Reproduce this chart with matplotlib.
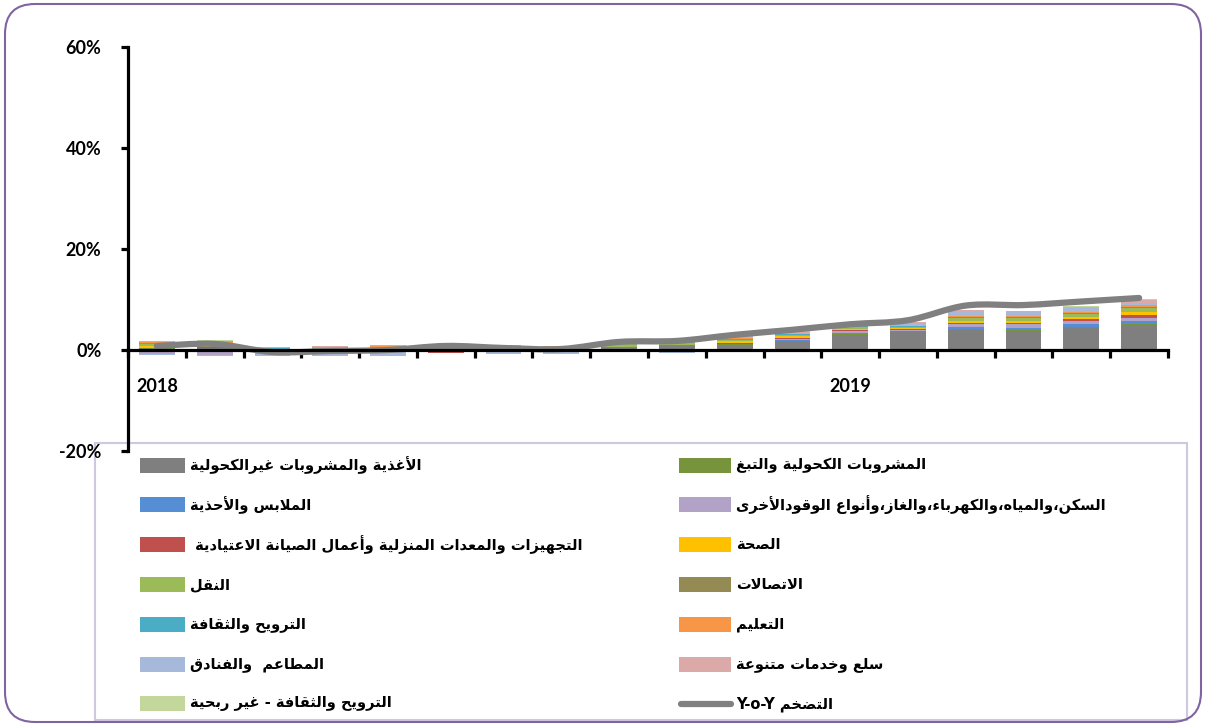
import re
import numpy as np
import matplotlib
matplotlib.use('Agg')
import matplotlib.pyplot as plt
from matplotlib.path import Path
from matplotlib.patches import PathPatch, Rectangle, FancyBboxPatch
from matplotlib.lines import Line2D
from matplotlib.transforms import IdentityTransform

plt.rcParams['font.family'] = ['Lato', 'DejaVu Sans']

# ---- data (percentage points, contribution to y-o-y inflation) ----
months = ['2018-01', '2018-02', '2018-03', '2018-04', '2018-05', '2018-06',
          '2018-07', '2018-08', '2018-09', '2018-10', '2018-11', '2018-12',
          '2019-01', '2019-02', '2019-03', '2019-04', '2019-05', '2019-06']

food        = [0.2, 0.3, -0.1, 0.0, 0.1, 0.3, 0.2, 0.1, 0.4, 0.8, 1.0, 1.7, 3.0, 3.5, 3.9, 3.8, 4.4, 4.8]
alcohol     = [0.1, 0.1, 0.05, 0.1, 0.1, 0.05, 0.0, 0.05, 0.1, 0.1, 0.1, 0.1, 0.15, 0.2, 0.25, 0.25, 0.25, 0.25]
clothing    = [-0.2, -0.2, -0.3, -0.3, -0.2, -0.1, -0.1, -0.1, -0.1, 0.0, 0.05, 0.1, 0.2, 0.1, 0.35, 0.4, 0.45, 0.6]
housing     = [-0.6, -0.7, -0.4, -0.3, -0.2, -0.2, -0.2, -0.1, -0.1, -0.3, 0.1, 0.3, 0.4, 0.2, 0.6, 0.6, 0.55, 0.65]
furnishing  = [0.1, 0.1, 0.0, 0.0, 0.05, -0.2, -0.1, 0.0, 0.0, -0.05, 0.05, 0.1, 0.15, 0.1, 0.3, 0.3, 0.4, 0.65]
health      = [0.4, 0.3, 0.1, 0.1, 0.1, 0.1, 0.1, 0.1, 0.1, 0.1, 0.4, 0.4, 0.35, 0.3, 0.4, 0.4, 0.45, 0.65]
transport   = [0.4, 0.5, 0.1, 0.2, 0.2, 0.4, 0.2, 0.2, 0.5, 0.65, 0.2, 0.3, 0.3, 0.15, 0.6, 0.6, 0.6, 0.65]
communic    = [0.05, 0.05, 0.0, 0.05, 0.05, 0.05, 0.05, 0.05, 0.05, 0.05, 0.05, 0.05, 0.05, 0.05, 0.05, 0.1, 0.15, 0.2]
recreation  = [0.05, 0.05, 0.05, 0.0, 0.0, 0.05, 0.05, 0.0, 0.1, 0.1, 0.25, 0.1, 0.1, 0.1, 0.1, 0.1, 0.15, 0.15]
education   = [0.3, 0.3, 0.1, 0.2, 0.2, 0.2, 0.2, 0.2, 0.2, 0.2, 0.1, 0.1, 0.1, 0.1, 0.15, 0.15, 0.2, 0.3]
restaurants = [-0.2, -0.2, -0.3, -0.6, -0.7, -0.1, -0.3, -0.5, -0.2, -0.2, 0.4, 0.2, 0.3, 0.5, 1.0, 0.8, 0.8, 0.5]
misc        = [0.1, 0.15, 0.1, 0.1, 0.1, 0.1, 0.1, 0.05, 0.3, 0.2, -0.3, 0.2, 0.15, 0.15, 0.2, 0.15, 0.2, 0.6]
rec_np      = [0.1, 0.1, 0.0, 0.05, 0.05, 0.0, 0.05, 0.05, 0.05, 0.05, 0.05, 0.05, 0.05, 0.05, 0.1, 0.1, 0.1, 0.1]

inflation   = [0.8, 1.2, -0.4, -0.2, 0.0, 0.8, 0.4, 0.2, 1.6, 1.8, 3.0, 4.0, 5.1, 5.9, 8.8, 8.9, 9.6, 10.3]

labels = ['الأغذية والمشروبات غيرالكحولية',
          'المشروبات الكحولية والتبغ',
          'الملابس والأحذية',
          'السكن،والمياه،والكهرباء،والغاز،وأنواع الوقودالأخرى',
          'التجهيزات والمعدات المنزلية وأعمال الصيانة الاعتيادية ',
          'الصحة',
          'النقل',
          'الاتصالات',
          'الترويح والثقافة',
          'التعليم',
          'المطاعم  والفنادق',
          'سلع وخدمات متنوعة',
          'الترويح والثقافة - غير ربحية']
line_label = 'التضخم Y-o-Y'

series = [food, alcohol, clothing, housing, furnishing, health, transport,
          communic, recreation, education, restaurants, misc, rec_np]
colors = ['#7F7F7F', '#77933C', '#558ED5', '#B3A2C7', '#C0504D', '#FFC000', '#9BBB59',
          '#948A54', '#4BACC6', '#F79646', '#A6B9DA', '#DCA9A9', '#C3D69B']
line_color = '#808080'

# ---- minimal arabic shaping (matplotlib has no RTL / joining support) ----
AR_FORMS = {
    'ء': (0xFE80, 0), 'آ': (0xFE81, 1), 'أ': (0xFE83, 1), 'ؤ': (0xFE85, 1),
    'إ': (0xFE87, 1), 'ئ': (0xFE89, 2), 'ا': (0xFE8D, 1), 'ب': (0xFE8F, 2),
    'ة': (0xFE93, 1), 'ت': (0xFE95, 2), 'ث': (0xFE99, 2), 'ج': (0xFE9D, 2),
    'ح': (0xFEA1, 2), 'خ': (0xFEA5, 2), 'د': (0xFEA9, 1), 'ذ': (0xFEAB, 1),
    'ر': (0xFEAD, 1), 'ز': (0xFEAF, 1), 'س': (0xFEB1, 2), 'ش': (0xFEB5, 2),
    'ص': (0xFEB9, 2), 'ض': (0xFEBD, 2), 'ط': (0xFEC1, 2), 'ظ': (0xFEC5, 2),
    'ع': (0xFEC9, 2), 'غ': (0xFECD, 2), 'ف': (0xFED1, 2), 'ق': (0xFED5, 2),
    'ك': (0xFED9, 2), 'ل': (0xFEDD, 2), 'م': (0xFEE1, 2), 'ن': (0xFEE5, 2),
    'ه': (0xFEE9, 2), 'و': (0xFEED, 1), 'ى': (0xFEEF, 1), 'ي': (0xFEF1, 2),
}
LAM_ALEF = {'آ': 0xFEF5, 'أ': 0xFEF7, 'إ': 0xFEF9, 'ا': 0xFEFB}


def ar(text):
    units = []
    i = 0
    while i < len(text):
        c = text[i]
        if c == 'ل' and i + 1 < len(text) and text[i + 1] in LAM_ALEF:
            units.append((LAM_ALEF[text[i + 1]], 1))
            i += 2
            continue
        units.append(AR_FORMS.get(c, c))
        i += 1
    out = []
    for k, u in enumerate(units):
        if isinstance(u, str):
            out.append(u)
            continue
        base, kind = u
        prev = units[k - 1] if k > 0 else None
        nxt = units[k + 1] if k + 1 < len(units) else None
        jp = kind > 0 and isinstance(prev, tuple) and prev[1] == 2
        jn = kind == 2 and isinstance(nxt, tuple) and nxt[1] > 0
        form = 3 if (jp and jn) else 1 if jp else 2 if jn else 0
        out.append(chr(base + form))
    vis = ''.join(out)[::-1]
    return re.sub(r'[A-Za-z0-9%\-]+', lambda m: m.group()[::-1], vis)


# ---- figure ----
W, H = 1206, 726
fig = plt.figure(figsize=(W / 100, H / 100), dpi=100)
ax = fig.add_axes([128 / W, 1 - 451 / H, (1168 - 128) / W, (451 - 47) / H])
ax.patch.set_visible(False)

x = np.arange(len(months))
pos_bottom = np.zeros(len(x))
neg_bottom = np.zeros(len(x))
for vals, color in zip(series, colors):
    vals = np.array(vals, dtype=float)
    bottom = np.where(vals >= 0, pos_bottom, neg_bottom)
    ax.bar(x, vals, 0.62, bottom=bottom, color=color, linewidth=0, zorder=2)
    pos_bottom += np.clip(vals, 0, None)
    neg_bottom += np.clip(vals, None, 0)

# smoothed line (bezier through the monthly points, like excel's smooth line)
pts = np.column_stack([x, inflation]).astype(float)
ext = np.vstack([pts[0], pts, pts[-1]])
verts = [pts[0]]
codes = [Path.MOVETO]
for i in range(len(pts) - 1):
    p0, p1, p2, p3 = ext[i], ext[i + 1], ext[i + 2], ext[i + 3]
    verts += [p1 + (p2 - p0) / 6, p2 - (p3 - p1) / 6, p2]
    codes += [Path.CURVE4] * 3
ax.add_patch(PathPatch(Path(verts, codes), fill=False, edgecolor=line_color,
                       linewidth=4.5, capstyle='round', zorder=3))

ax.set_xlim(-0.5, len(x) - 0.5)
ax.set_ylim(-20, 60)
ax.set_yticks([-20, 0, 20, 40, 60])
ax.set_yticklabels(['%d%%' % v for v in [-20, 0, 20, 40, 60]])
ax.set_xticks(np.arange(len(x) + 1) - 0.5)
ax.set_xticklabels([])
ax.set_xticks(x, minor=True)
ax.set_xticklabels([m[:4] if m.endswith('-01') else '' for m in months], minor=True)

for s in ['top', 'right']:
    ax.spines[s].set_visible(False)
ax.spines['bottom'].set_position(('data', 0))
ax.spines['bottom'].set_linewidth(2.3)
ax.spines['left'].set_linewidth(2.3)
ax.spines['bottom'].set_zorder(4)
ax.tick_params(axis='y', length=5, width=2.3, pad=14, labelsize=13)
ax.tick_params(axis='x', which='major', length=6, width=2.3, direction='out')
ax.tick_params(axis='x', which='minor', length=0, pad=20, labelsize=13)
for t in ax.get_yticklabels() + ax.get_xticklabels(minor=True):
    t.set_fontweight('bold')

# ---- legend, laid out by hand in two columns (rtl labels) ----
fig.add_artist(Rectangle((95 / W, 1 - 720 / H), (1187 - 95) / W, (720 - 443) / H,
                         transform=fig.transFigure, facecolor='white',
                         edgecolor='#CFC8E0', linewidth=1.5, zorder=-1))
px = IdentityTransform()
left_idx = [0, 2, 4, 6, 8, 10, 12]
right_idx = [1, 3, 5, 7, 9, 11]
row_y = [H - (465 + 39.8 * k) for k in range(7)]


def legend_text(xp, yp, s):
    fig.text(xp, yp, s, transform=px, ha='left', va='center', fontsize=10.5,
             fontweight='bold', family='DejaVu Sans')


for k, i in enumerate(left_idx):
    fig.add_artist(Rectangle((140, row_y[k] - 7.5), 45, 15, transform=px,
                             facecolor=colors[i], linewidth=0))
    legend_text(190, row_y[k], ar(labels[i]))
for k, i in enumerate(right_idx):
    fig.add_artist(Rectangle((679, row_y[k] - 7.5), 52, 15, transform=px,
                             facecolor=colors[i], linewidth=0))
    legend_text(736, row_y[k], ar(labels[i]))
fig.add_artist(Line2D([681, 731], [row_y[6], row_y[6]], transform=px, color=line_color,
                      linewidth=4.5, solid_capstyle='round'))
legend_text(736, row_y[6], ar(line_label))

# rounded outer border
fig.add_artist(FancyBboxPatch((5, 4), W - 10, H - 8, boxstyle='round,pad=0,rounding_size=30',
                              transform=px, facecolor='none',
                              edgecolor='#8064A2', linewidth=1.5))

fig.savefig('out.png', dpi=100)
